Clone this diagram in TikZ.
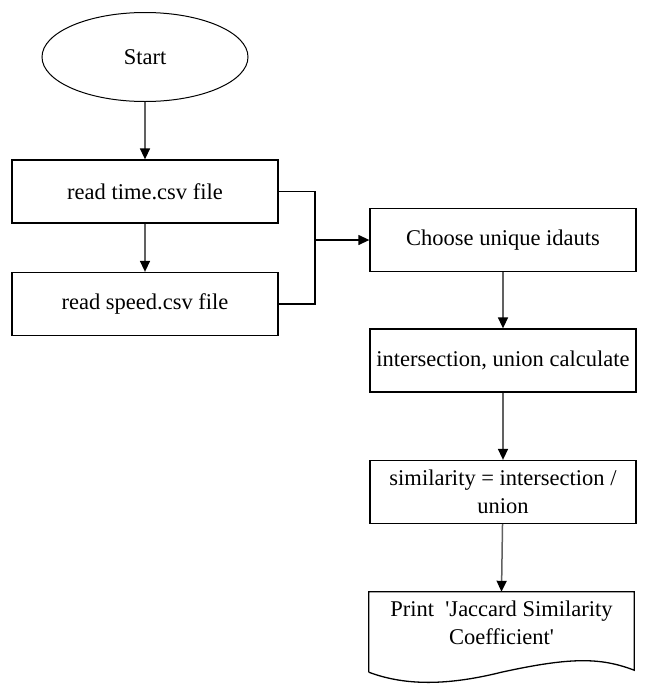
\documentclass[tikz,border=0pt]{standalone}
\usepackage{fontspec}
\setmainfont{Liberation Serif}
\usetikzlibrary{arrows.meta,calc,shapes.geometric}
\begin{document}
\begin{tikzpicture}[x=1pt,y=-1pt,
  every node/.style={font=\fontsize{22.5}{27.5}\selectfont, inner sep=0pt, align=center},
  box/.style={draw=black, line width=1.3pt, rectangle, minimum width=266pt, minimum height=63pt},
  term/.style={draw=black, line width=1pt, ellipse, minimum width=206pt, minimum height=89pt},
  flow/.style={draw=black!62, line width=1.5pt, -{Triangle[width=10pt,length=11pt,color=black]}},
  merge/.style={draw=black, line width=1.3pt},
  mergearrow/.style={draw=black, line width=1.3pt, -{Triangle[width=10pt,length=11pt,color=black]}}]
\useasboundingbox (0,0) rectangle (647,694);
\fill[white] (0,0) rectangle (647,694);

\node[term] (start) at (145,57) {Start};
\node[box] (b1) at (145,191.5) {read time.csv file};
\node[box] (b2) at (145,304) {read speed.csv file};
\node[box] (c) at (503,240) {Choose unique idauts};
\node[box] (i) at (503,360.5) {intersection, union calculate};
\node[box] (s) at (503,492) {similarity = intersection /\\union};
\node[minimum width=265pt, minimum height=62pt] (p) at (501.5,623) {Print\ \ \textquotesingle Jaccard Similarity\\Coefficient\textquotesingle};

\draw[line width=1.3pt, line join=miter]
  ($(p.south west)+(0,18)$) -- (p.north west) -- (p.north east) -- ($(p.south east)+(0,16)$)
  .. controls ($(p.south east)+(-34,3)$) and ($(p.south east)+(-64,3)$) .. ($(p.south)+(0,18)$)
  .. controls ($(p.south)+(-60,33)$) and ($(p.south west)+(32,30)$) .. ($(p.south west)+(0,18)$);

\coordinate (jx) at (315,240);
\draw[flow] (start) -- (b1);
\draw[flow] (b1) -- (b2);
\draw[merge] (b1.east) -| (jx) |- (b2.east);
\draw[mergearrow] (jx) -- (c.west);
\draw[flow] (c) -- (i);
\draw[flow] (i) -- (s);
\draw[flow] (s) -- (p.north);
\end{tikzpicture}
\end{document}
